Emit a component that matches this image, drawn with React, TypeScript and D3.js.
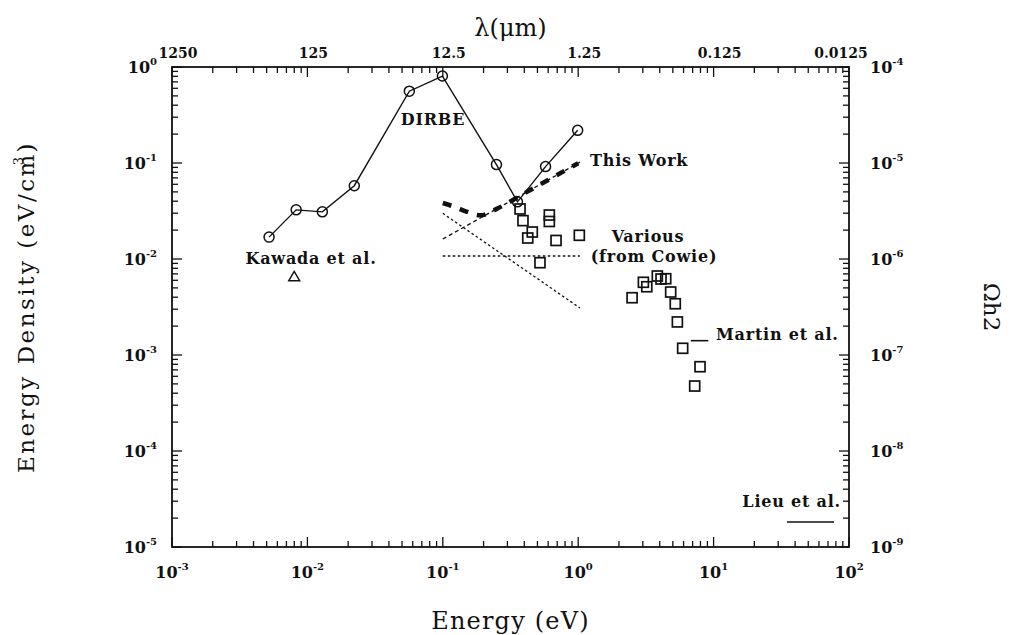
import * as d3 from "d3";

// DIRBE points (energy eV, energy density eV/cm^3)
const dirbeE = [0.00521, 0.00826, 0.0129, 0.0222, 0.0566, 0.0993, 0.249, 0.356, 0.574, 0.991];
const dirbeU = [0.0169, 0.0325, 0.031, 0.058, 0.56, 0.805, 0.0962, 0.0394, 0.0917, 0.219];

// Kawada et al.
const kawadaE = [0.00799];
const kawadaU = [0.0066];

// Various (from Cowie) squares
const cowieE = [0.372, 0.391, 0.458, 0.424, 0.612, 0.612, 0.686, 1.019, 0.522,
  2.5, 3.03, 3.21, 3.84, 4.09, 4.43, 4.82, 5.21, 5.4, 5.91, 7.94, 7.25];
const cowieU = [0.0332, 0.0251, 0.0191, 0.01655, 0.0287, 0.0246, 0.0156, 0.01766, 0.00915,
  0.00395, 0.00572, 0.00514, 0.00665, 0.00619, 0.00623, 0.00453, 0.00342, 0.00221, 0.001175, 0.000755, 0.000475];

// This Work
const thickE = [0.1, 0.125, 0.146, 0.19, 0.25, 0.4, 0.6, 1.0];
const thickU = [0.0383, 0.0345, 0.0316, 0.0285, 0.0333, 0.0483, 0.0665, 0.0996];
const thinE = [0.1, 1.03];
const thinU = [0.01615, 0.102];

// dotted limits
const diagE = [0.1, 1.03];
const diagU = [0.0299, 0.00309];
const flatE = [0.1, 1.03];
const flatU = [0.01075, 0.01075];

// Martin et al. / Lieu et al.
const martinE = [6.78, 9.14];
const martinU = [0.00141, 0.00141];
const lieuE = [34.8, 77.5];
const lieuU = [1.82e-5, 1.82e-5];

const bottomExp = [-3, -2, -1, 0, 1, 2];
const leftExp = [0, -1, -2, -3, -4, -5];
const rightExp = [-4, -5, -6, -7, -8, -9];
const lambdaLabels = ["1250", "125", "12.5", "1.25", "0.125", "0.0125"];

const font = "'DejaVu Serif', serif";

function Pow({ x, y, e, anchor }: { x: number; y: number; e: number; anchor: string }) {
  return (
    <text x={x} y={y} textAnchor={anchor} fontFamily={font} fontSize={16} fontWeight={700} fill="#111">
      10<tspan fontSize={10} dy={-8}>{String(e)}</tspan>
    </text>
  );
}

export default function App() {
  const W = 1017, H = 635;
  const L = 172, R = 849, T = 67, B = 547;
  const x = d3.scaleLog().domain([1e-3, 1e2]).range([L, R]);
  const y = d3.scaleLog().domain([1e-5, 1]).range([B, T]);
  const yR = d3.scaleLog().domain([1e-9, 1e-4]).range([B, T]);

  const xt = x.ticks();
  const yt = y.ticks();
  const isMajor = (v: number) => Math.abs(Math.log10(v) - Math.round(Math.log10(v))) < 1e-6;

  const line = (es: number[], us: number[]) =>
    d3.line<number>().x((_, i) => x(es[i])).y((_, i) => y(us[i]))(es.map((_, i) => i)) || "";
  const curve = (es: number[], us: number[]) =>
    d3.line<number>().x((_, i) => x(es[i])).y((_, i) => y(us[i])).curve(d3.curveMonotoneX)(es.map((_, i) => i)) || "";

  const lab = { fontFamily: font, fontSize: 16, fontWeight: 700, fill: "#111", letterSpacing: 0.8 } as const;

  return (
    <svg width={W} height={H} style={{ position: "absolute", left: 0, top: 0, background: "#fff" }}>
      {/* frame */}
      <rect x={L} y={T} width={R - L} height={B - T} fill="none" stroke="#111" strokeWidth={1.8} />

      {/* x ticks bottom & top */}
      {xt.map((v, i) => {
        const len = isMajor(v) ? 10 : 6;
        return (
          <g key={"xt" + i} stroke="#111" strokeWidth={1.3}>
            <line x1={x(v)} x2={x(v)} y1={B} y2={B - len} />
            <line x1={x(v)} x2={x(v)} y1={T} y2={T + len} />
          </g>
        );
      })}
      {/* y ticks left & right */}
      {yt.map((v, i) => {
        const len = isMajor(v) ? 10 : 6;
        return (
          <g key={"yt" + i} stroke="#111" strokeWidth={1.3}>
            <line x1={L} x2={L + len} y1={y(v)} y2={y(v)} />
            <line x1={R} x2={R - len} y1={y(v)} y2={y(v)} />
          </g>
        );
      })}

      {/* tick labels */}
      {bottomExp.map((e) => (
        <Pow key={"b" + e} x={x(Math.pow(10, e))} y={578} e={e} anchor="middle" />
      ))}
      {leftExp.map((e) => (
        <Pow key={"l" + e} x={157} y={y(Math.pow(10, e)) + 6} e={e} anchor="end" />
      ))}
      {rightExp.map((e) => (
        <Pow key={"r" + e} x={870} y={yR(Math.pow(10, e)) + 6} e={e} anchor="start" />
      ))}
      {lambdaLabels.map((t, i) => (
        <text key={"lam" + i} x={x(Math.pow(10, bottomExp[i])) + (i === 5 ? -8 : 6)} y={58}
          textAnchor="middle" fontFamily={font} fontSize={14} fontWeight={700} fill="#111">{t}</text>
      ))}

      {/* axis titles */}
      <text x={(L + R) / 2} y={36} textAnchor="middle" fontFamily={font} fontSize={24} fill="#111">λ(μm)</text>
      <text x={(L + R) / 2} y={629} textAnchor="middle" fontFamily={font} fontSize={24} fill="#111" letterSpacing={1.2}>Energy (eV)</text>
      <text transform={`translate(34,${(T + B) / 2}) rotate(-90)`} textAnchor="middle" fontFamily={font} fontSize={23} fill="#111" letterSpacing={2.5}>
        Energy Density (eV/cm<tspan fontSize={13} dy={-11} dx={-13}>3</tspan><tspan dy={11} dx={2}>)</tspan>
      </text>
      <text transform={`translate(984,${(T + B) / 2}) rotate(90)`} textAnchor="middle" fontFamily={font} fontSize={23} fill="#111">
        Ωh2
      </text>

      {/* dotted limit lines */}
      <path d={line(diagE, diagU)} fill="none" stroke="#111" strokeWidth={1.3} strokeDasharray="2.5,2.5" />
      <path d={line(flatE, flatU)} fill="none" stroke="#111" strokeWidth={1.3} strokeDasharray="2.5,2.5" />

      {/* This Work */}
      <path d={line(thinE, thinU)} fill="none" stroke="#111" strokeWidth={1.3} strokeDasharray="4,3" />
      <path d={curve(thickE, thickU)} fill="none" stroke="#111" strokeWidth={4.5} strokeDasharray="9,9" />

      {/* DIRBE */}
      <path d={line(dirbeE, dirbeU)} fill="none" stroke="#111" strokeWidth={1.4} />
      {dirbeE.map((e, i) => (
        <circle key={"d" + i} cx={x(e)} cy={y(dirbeU[i])} r={5} fill="none" stroke="#111" strokeWidth={1.5} />
      ))}

      {/* Cowie squares */}
      {cowieE.map((e, i) => (
        <rect key={"c" + i} x={x(e) - 5} y={y(cowieU[i]) - 5} width={10} height={10} fill="none" stroke="#111" strokeWidth={1.7} />
      ))}

      {/* Kawada */}
      {kawadaE.map((e, i) => {
        const cx = x(e), cy = y(kawadaU[i]);
        return <path key={"k" + i} d={`M${cx - 5.5},${cy + 4.5}L${cx + 5.5},${cy + 4.5}L${cx},${cy - 5}Z`} fill="none" stroke="#111" strokeWidth={1.4} />;
      })}

      {/* Martin & Lieu */}
      <path d={line(martinE, martinU)} fill="none" stroke="#111" strokeWidth={1.6} />
      <path d={line(lieuE, lieuU)} fill="none" stroke="#111" strokeWidth={1.6} />

      {/* labels */}
      <text {...lab} x={433} y={125} textAnchor="middle">DIRBE</text>
      <text {...lab} x={311} y={264} textAnchor="middle">Kawada et al.</text>
      <text {...lab} x={590} y={166}>This Work</text>
      <text {...lab} x={648} y={242} textAnchor="middle">Various</text>
      <text {...lab} x={654} y={262} textAnchor="middle">(from Cowie)</text>
      <text {...lab} x={716} y={340}>Martin et al.</text>
      <text {...lab} x={841} y={507} textAnchor="end">Lieu et al.</text>
    </svg>
  );
}
